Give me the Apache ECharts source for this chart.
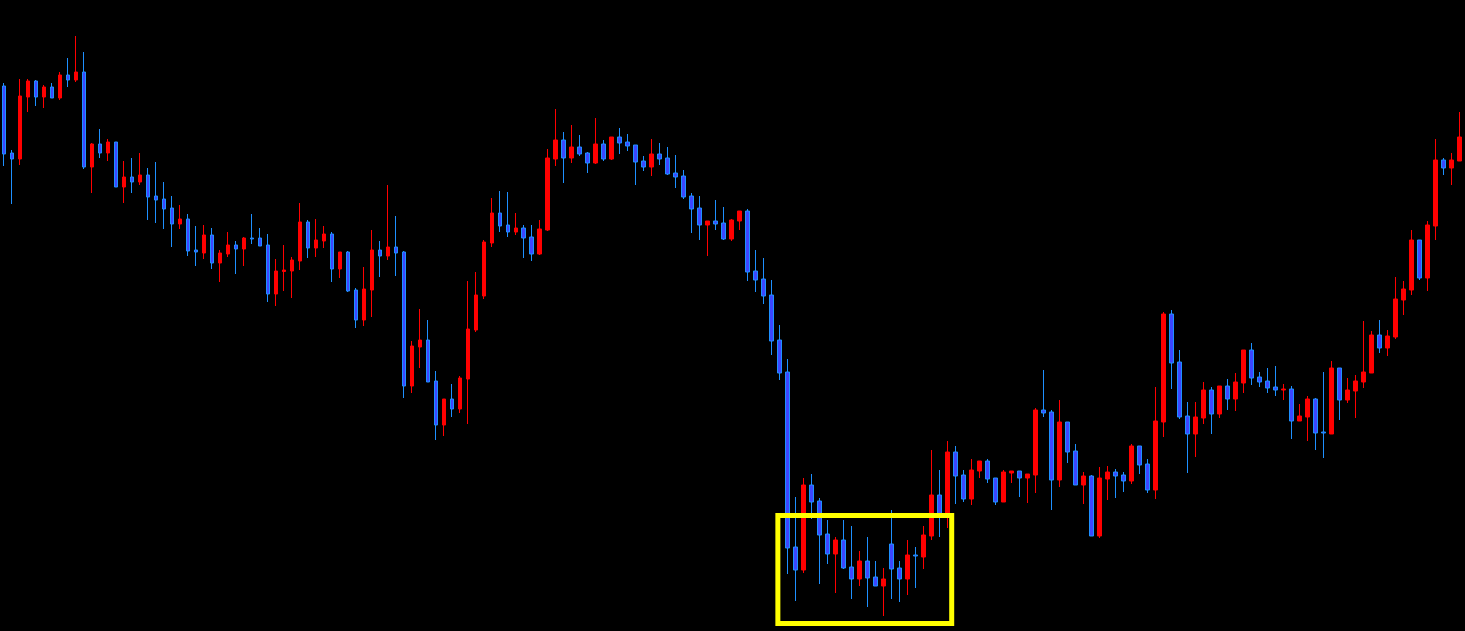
<!DOCTYPE html>
<html>
<head>
<meta charset="utf-8">
<script src="https://cdn.jsdelivr.net/npm/echarts@6/dist/echarts.min.js"></script>
<style>
html,body{margin:0;padding:0;background:#000;}
#chart{width:1465px;height:631px;}
</style>
</head>
<body>
<div id="chart"></div>
<script>
// Price units (higher = up)
var opens = [
545,478,472,534,550,534,544,533,556,551,
559,464,487,478,489,444,454,449,456,435,
432,423,407,412,381,378,396,368,377,386,
382,393,393,386,337,359.5,360,370,409,383,
390,397,362,379,341,311,341,381,375,384,
379,245,284,291,250,206,232,222,252,301,
335,388,418,406,399,403,394,377,401,472,
491,473,484,478,468,487,472,494,489,486,
470,464,477,473,458,455,435,423,406,410,
408,392,410,420,360,352,336,291,259,84,
61,146,130,97,77,91,64,52,70,54,
45,87,63,52,76,74,95,136,116,179,
156,132,160,170,153,129,158,160,153,156,
221,219,151,209,180,146,155,95,152,159,
156,150,185,167,141,209,317,269,215,197,
213,241,217,245,232,248,281,254,250,244,
241,242,210,214,232,199,197,263,231,240,
249,258,296,283,294,331,341,391,353,405,
471,463,470
];
var closes = [
477,472,535,550,534,544,533,556,551,559,
464,487,478,489,444,454,449,456,434,431,
422,407,412,380,379,396,368,378,386,382,
393,392,385,337,360,361,371,409,383,391,
397,362,379,340,311,342,381,375,384,378,
245,285,291,249,206,232,222,253,302,336,
389,418,405,399,403,393,377,402,473,491,
473,484,477,468,487,472,494,488,485,469,
464,477,472,457,454,434,422,406,410,407,
392,411,420,359,351,335,290,258,83,61,
146,129,96,77,91,63,52,70,53,45,
52,62,52,76,75,96,136,116,179,155,
132,161,170,152,129,159,160,153,157,221,
218,151,209,179,146,155,95,153,159,155,
150,185,166,141,210,317,268,214,197,214,
241,217,245,232,249,281,253,249,243,241,
242,210,215,232,198,198,263,231,241,250,
259,296,283,295,332,342,391,353,406,471,
463,471,494
];
var lows = [
465,427,466,519,525,523,533,531,544,549,
462,438,473,470,444,428,438,446,411,408,
402,384,402,375,365,372,362,349,374,357,
365,387,385,329,325,340,333,361,373,374,
383,349,353,339,303,305,314,354,371,355,
233,238,263,249,191,195,214,218,207,299,
332,384,399,394,396,373,370,376,400,465,
448,468,475,458,467,470,471,477,480,446,
460,455,466,456,443,432,398,391,375,401,
391,390,401,350,339,327,276,251,57,30,
58,112,47,67,38,62,32,45,24,45,
15,32,29,36,43,62,91,94,103,127,
129,126,153,148,126,129,148,134,128,138,
214,121,144,168,146,127,95,93,131,133,
139,147,157,138,132,194,242,212,158,174,
207,197,213,221,220,238,246,244,238,235,
231,192,210,190,181,173,197,211,228,213,
243,258,278,275,292,316,336,351,340,391,
456,446,470
];
var highs = [
548,481,552,552,551,546,548,559,573,595,
579,488,502,492,489,470,473,478,463,469,
449,435,426,417,405,406,403,381,399,390,
394,417,403,397,372,386,374,428,411,412,
405,399,379,380,343,364,401,390,446,415,
380,290,322,311,260,232,247,255,350,359,
391,433,440,439,418,406,406,411,482,522,
499,506,496,479,513,491,494,503,497,486,
475,492,488,484,476,461,438,435,410,431,
424,412,420,422,381,373,351,306,272,134,
153,157,133,111,94,111,105,80,94,70,
63,121,70,91,84,105,181,161,190,185,
161,172,170,172,153,161,160,160,157,223,
261,221,231,209,187,159,156,164,165,162,
159,187,185,172,244,319,321,281,229,229,
249,244,245,252,258,281,288,259,263,265,
247,245,227,235,233,259,270,263,253,256,
310,300,311,301,354,350,401,391,410,492,
473,478,519
];
var categories = opens.map(function (_, i) { return 'Bar ' + (i + 1); });
// Highlight box: from/to bar position (fractional bar index) and price range
var boxBars = [96.78, 118.52];
var boxPrices = [115.5, 7.5];

var candles = opens.map(function (o, i) { return [o, closes[i], lows[i], highs[i]]; });
var n = categories.length;

var chart = echarts.init(document.getElementById('chart'), null, { renderer: 'canvas' });
chart.setOption({
  backgroundColor: '#000000',
  animation: false,
  grid: { left: -0.7, right: 1.7, top: 0, bottom: 0 },
  xAxis: [{
    type: 'category',
    data: categories,
    boundaryGap: true,
    show: false
  }, {
    type: 'value',
    min: -0.5,
    max: n - 0.5,
    show: false,
    splitLine: { show: false }
  }],
  yAxis: {
    type: 'value',
    min: 0,
    max: 631,
    show: false,
    splitLine: { show: false }
  },
  series: [{
    type: 'candlestick',
    data: candles,
    barWidth: 4,
    itemStyle: {
      color: '#ff0000',
      borderColor: '#ff0000',
      color0: '#3c46ff',
      borderColor0: '#1e90ff',
      borderWidth: 1
    }
  }, {
    type: 'line',
    xAxisIndex: 1,
    data: [[boxBars[0], boxPrices[0]]],
    symbolSize: 0,
    showSymbol: false,
    lineStyle: { width: 0 },
    silent: true,
    markArea: {
      silent: true,
      z: 10,
      itemStyle: {
        color: 'rgba(0,0,0,0)',
        borderColor: '#ffff00',
        borderWidth: 5
      },
      data: [[
        { xAxis: boxBars[0], yAxis: boxPrices[0] },
        { xAxis: boxBars[1], yAxis: boxPrices[1] }
      ]]
    }
  }]
});
</script>
</body>
</html>
